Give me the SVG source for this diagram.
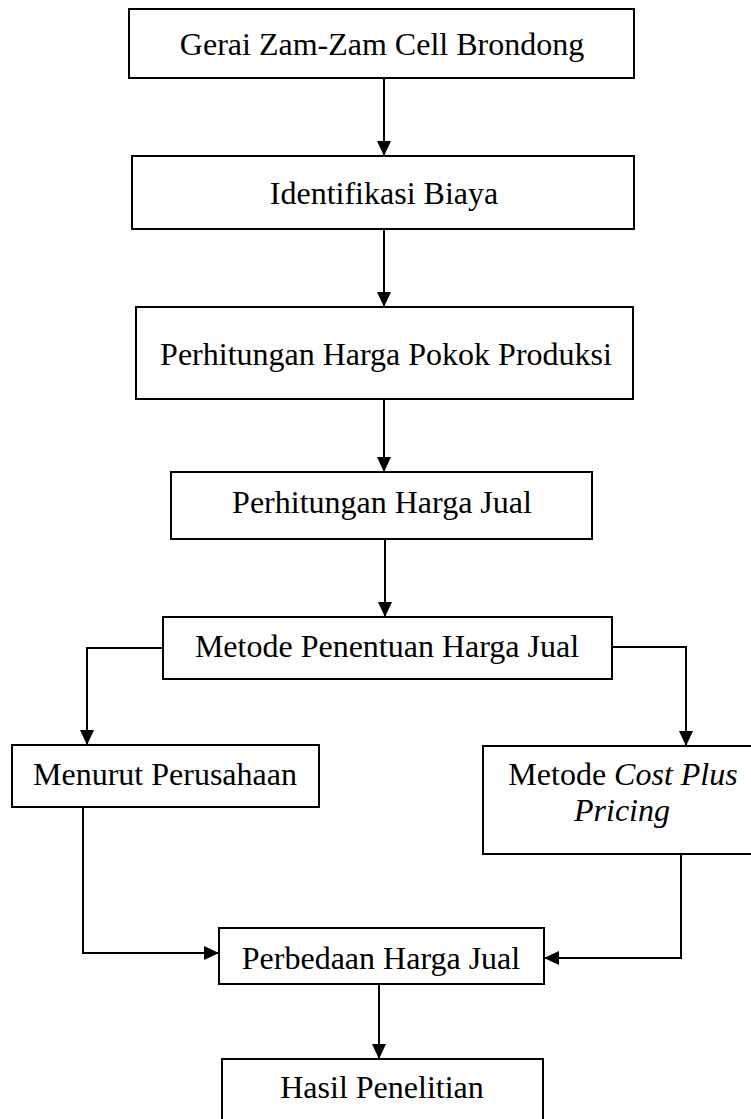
<svg xmlns="http://www.w3.org/2000/svg" width="751" height="1119" viewBox="0 0 751 1119">
  <style>
    .box { fill: #fff; stroke: #000; stroke-width: 2; }
    .lbl { font-family: "Liberation Serif", "Times New Roman", serif; font-size: 32px; fill: #000; text-anchor: middle; }
    .conn { fill: none; stroke: #000; stroke-width: 2; marker-end: url(#arr); }
  </style>
  <defs>
    <marker id="arr" markerUnits="userSpaceOnUse" markerWidth="15" markerHeight="14" refX="15" refY="7" orient="auto">
      <path d="M0,0 L15,7 L0,14 z" fill="#000"/>
    </marker>
  </defs>
  <rect width="751" height="1119" fill="#fff"/>
  <g id="connectors">
    <path class="conn" d="M384,78 L384,156"/>
    <path class="conn" d="M384,229 L384,307"/>
    <path class="conn" d="M384,399 L384,472"/>
    <path class="conn" d="M385,539 L385,617"/>
    <path class="conn" d="M163,648 L87,648 L87,745"/>
    <path class="conn" d="M612,647 L686,647 L686,746"/>
    <path class="conn" d="M83,807 L83,953 L219,953"/>
    <path class="conn" d="M681,854 L681,958 L544,958"/>
    <path class="conn" d="M379,984 L379,1059"/>
  </g>
  <g id="n1">
    <rect class="box" x="129" y="9" width="505" height="69"/>
    <text class="lbl" x="382" y="55">Gerai Zam-Zam Cell Brondong</text>
  </g>
  <g id="n2">
    <rect class="box" x="132" y="156" width="502" height="73"/>
    <text class="lbl" x="384" y="204">Identifikasi Biaya</text>
  </g>
  <g id="n3">
    <rect class="box" x="136" y="307" width="497" height="92"/>
    <text class="lbl" x="386" y="365">Perhitungan Harga Pokok Produksi</text>
  </g>
  <g id="n4">
    <rect class="box" x="171" y="472" width="421" height="67"/>
    <text class="lbl" x="382" y="513">Perhitungan Harga Jual</text>
  </g>
  <g id="n5">
    <rect class="box" x="163" y="617" width="449" height="62"/>
    <text class="lbl" x="387" y="657">Metode Penentuan Harga Jual</text>
  </g>
  <g id="n6">
    <rect class="box" x="12" y="745" width="307" height="62"/>
    <text class="lbl" x="165" y="785">Menurut Perusahaan</text>
  </g>
  <g id="n7">
    <rect class="box" x="483" y="746" width="280" height="108"/>
    <text class="lbl" x="623" y="785">Metode <tspan font-style="italic">Cost Plus</tspan></text>
    <text class="lbl" x="622" y="821" font-style="italic">Pricing</text>
  </g>
  <g id="n8">
    <rect class="box" x="219" y="928" width="325" height="56"/>
    <text class="lbl" x="381" y="969">Perbedaan Harga Jual</text>
  </g>
  <g id="n9">
    <rect class="box" x="222" y="1059" width="321" height="80"/>
    <text class="lbl" x="382" y="1098">Hasil Penelitian</text>
  </g>
</svg>
